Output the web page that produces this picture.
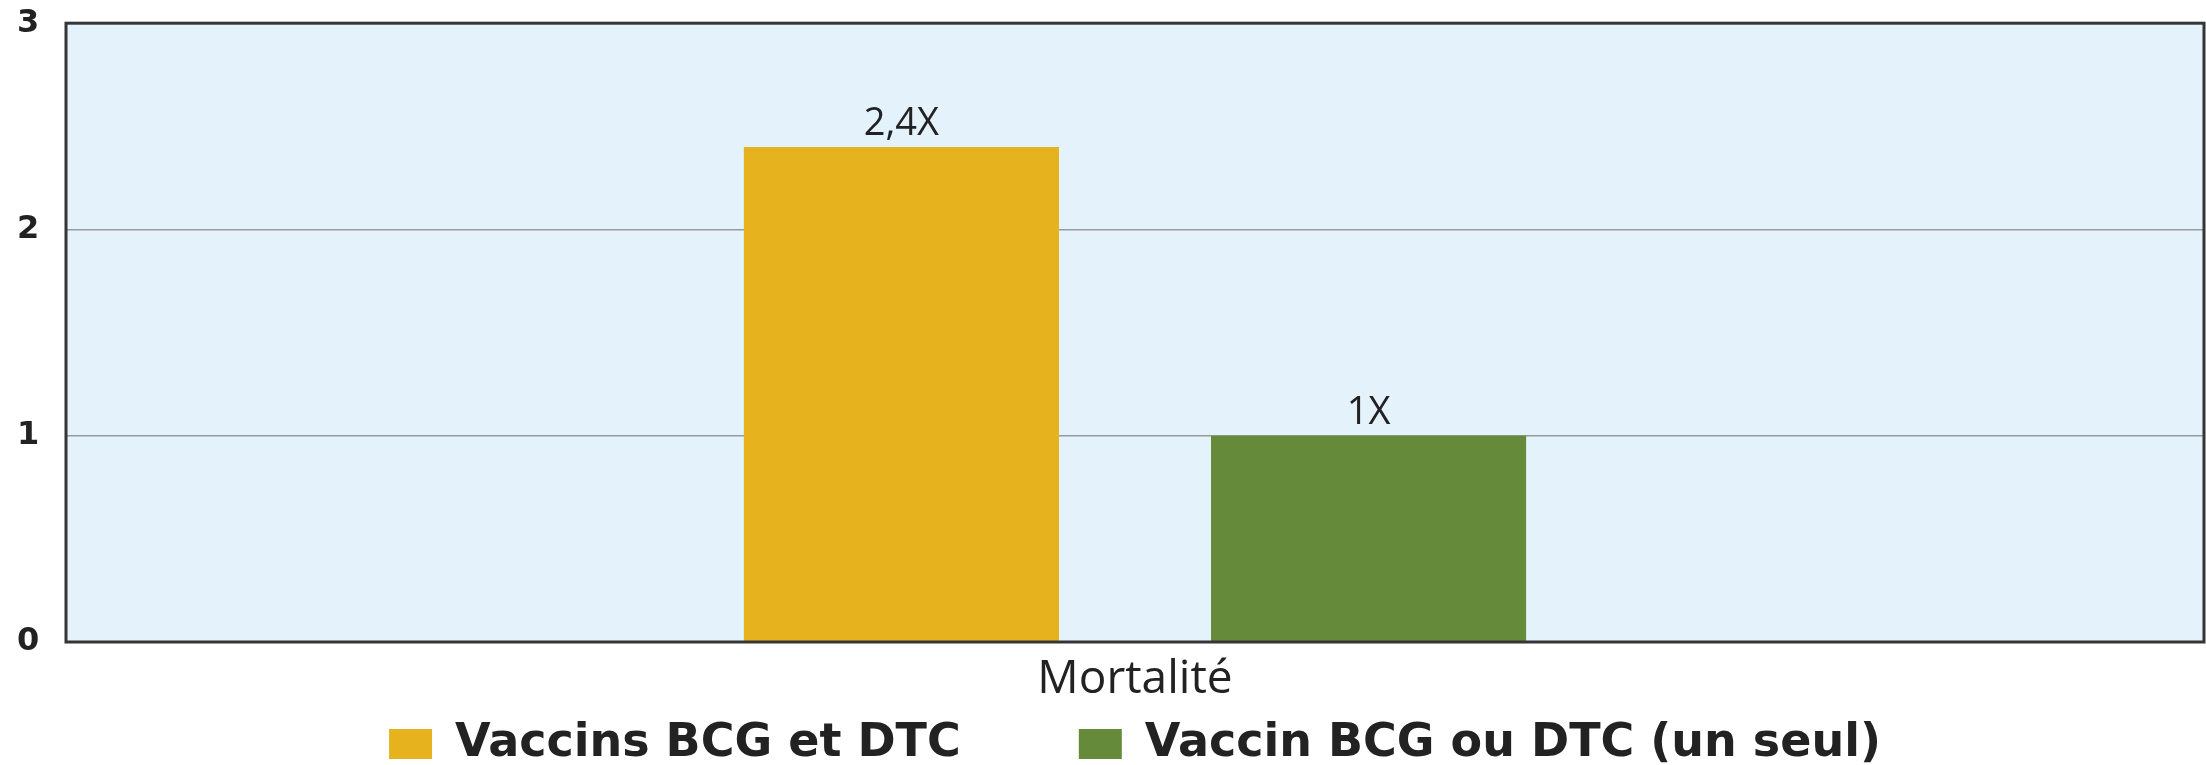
<!DOCTYPE html>
<html>
<head>
<meta charset="utf-8">
<script src="https://cdn.jsdelivr.net/npm/chart.js@4"></script>
<style>
  html, body { margin: 0; padding: 0; background: #fff; overflow: hidden; }
  #wrap { width: 2206px; height: 765px; }
</style>
</head>
<body>
<div id="wrap"><canvas id="myChart" width="2206" height="765"></canvas></div>
<script>
// values
const categories = ["Mortalité"];
const seriesNames = ["Vaccins BCG et DTC", "Vaccin BCG ou DTC (un seul)"];
const seriesValues = [[2.4], [1]];
const valueLabels = [["2,4X"], ["1X"]];
const seriesColors = ["#e6b21e", "#658a3a"];

// plot background + dark frame round the chart area
const frame = {
    id: "frame",
    beforeDraw(chart) {
        const { ctx, chartArea: a } = chart;
        ctx.save();
        ctx.fillStyle = "#e4f2fc";
        ctx.fillRect(a.left, a.top, a.right - a.left, a.bottom - a.top);
        ctx.restore();
    },
    afterDraw(chart) {
        const { ctx, chartArea: a } = chart;
        ctx.save();
        ctx.strokeStyle = "#353535";
        ctx.lineWidth = 3;
        ctx.strokeRect(a.left, a.top, a.right - a.left, a.bottom - a.top);
        ctx.restore();
    },
};

// "2,4X" / "1X" above the bars
const barLabels = {
    id: "barLabels",
    afterDatasetsDraw(chart) {
        const ctx = chart.ctx;
        ctx.save();
        ctx.font = "38px 'Open Sans'";
        ctx.fillStyle = "#222";
        ctx.textAlign = "center";
        ctx.textBaseline = "alphabetic";
        chart.data.datasets.forEach((ds, i) => {
            chart.getDatasetMeta(i).data.forEach((bar, j) => {
                ctx.fillText(valueLabels[i][j], bar.x, bar.y - 12);
            });
        });
        ctx.restore();
    },
};

const ctx = document.getElementById("myChart").getContext("2d");
const chart = new window.Chart(ctx, {
    type: "bar",
    data: {
        labels: categories,
        datasets: seriesNames.map((name, i) => ({
            label: name,
            data: seriesValues[i],
            backgroundColor: seriesColors[i],
            borderWidth: 0,
            categoryPercentage: 0.437,
            barPercentage: 0.6745,
        })),
    },
    options: {
        responsive: false,
        animation: false,
        layout: {
            padding: { top: 4, right: 2, left: 17, bottom: -12 },
        },
        plugins: {
            legend: {
                position: "bottom",
                fullSize: false,
                labels: {
                    boxWidth: 43,
                    boxHeight: 30,
                    padding: 22,
                    color: "#222",
                    font: { family: "DejaVu Sans", weight: "bold", size: 46 },
                    // extra room between the two entries (padding also sets the vertical gap)
                    generateLabels(chart) {
                        const items = window.Chart.defaults.plugins.legend.labels.generateLabels(chart);
                        items.forEach((it, i) => {
                            if (i < items.length - 1) it.text += "      ";
                        });
                        return items;
                    },
                },
            },
            tooltip: { enabled: false },
        },
        scales: {
            x: {
                grid: { display: false },
                border: { display: false },
                ticks: {
                    color: "#222",
                    padding: 2,
                    font: { family: "Open Sans", size: 46 },
                },
                afterFit(scale) {
                    scale.height = 57;
                },
            },
            y: {
                min: 0,
                max: 3,
                border: { display: false },
                grid: {
                    color: "#9a9a9a",
                    lineWidth: 1.5,
                    drawTicks: false,
                },
                ticks: {
                    stepSize: 1,
                    color: "#222",
                    padding: 4,
                    crossAlign: "far",
                    font: { family: "DejaVu Sans", weight: "bold", size: 32 },
                },
                afterFit(scale) {
                    scale.width = 49;
                },
            },
        },
    },
    plugins: [frame, barLabels],
});
</script>
</body>
</html>
